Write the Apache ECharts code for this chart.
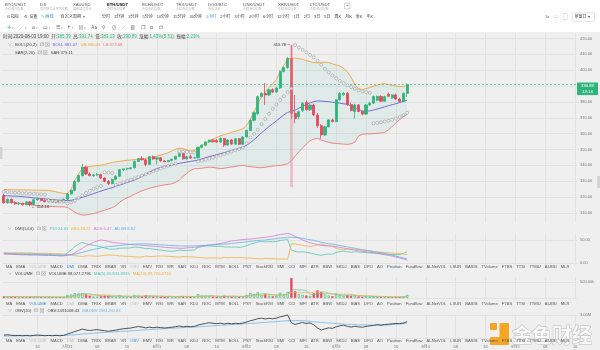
<!DOCTYPE html>
<html>
<head>
<meta charset="utf-8">
<script src="https://cdn.jsdelivr.net/npm/echarts@6/dist/echarts.min.js"></script>
<style>
html,body{margin:0;padding:0;background:#efefef;}
#chart{width:600px;height:350px;}
</style>
</head>
<body>
<div id="chart"></div>
<script>
// ETH/USDT hourly candles, 2020-07-30 07:00 to 2020-08-03 19:00
const openP = [321.0,316.4,318.6,316.5,315.8,316.1,315.2,317.0,315.4,318.4,
319.0,317.9,317.1,318.5,316.9,317.8,316.8,318.7,322.0,324.3,
329.8,333.6,338.9,334.6,333.5,334.0,334.2,332.0,329.9,328.5,
331.2,333.2,337.3,337.8,338.0,338.5,342.5,344.2,343.5,340.6,
345.5,344.0,344.8,342.8,342.3,343.1,343.9,345.7,347.4,344.1,
345.5,344.6,344.8,351.4,352.7,354.8,355.9,355.6,354.7,357.0,
352.8,356.0,353.4,356.8,353.3,357.9,362.0,368.4,372.5,383.3,
385.4,384.4,387.6,386.2,388.8,399.2,401.6,407.4,372.8,370.6,
374.5,379.8,375.0,378.0,371.8,365.0,359.2,364.3,368.6,367.6,
381.3,384.5,385.5,378.3,373.9,378.1,374.0,372.3,378.1,379.2,
381.0,383.5,380.4,384.8,382.4,384.4,381.8,380.3,385.39];
const highP = [322.1,319.3,319.2,317.4,316.9,316.6,317.5,317.6,318.9,319.6,
319.4,318.6,318.9,318.8,318.3,318.2,319.1,322.6,324.8,330.5,
334.2,341.0,339.8,335.6,334.6,335.2,334.9,332.6,330.8,331.8,
333.8,337.8,338.2,338.6,338.9,343.0,344.6,345.8,344.1,345.9,
346.2,345.0,345.2,343.4,343.3,344.2,346.1,347.9,348.0,345.9,
346.8,345.3,351.8,353.1,355.1,356.2,356.4,356.7,357.6,357.3,
356.4,356.6,357.1,357.2,358.4,362.6,369.0,373.9,384.0,386.0,
391.9,388.2,388.5,389.4,399.9,402.2,408.1,415.78,384.4,374.4,
380.0,381.0,378.6,378.9,373.0,366.0,364.9,369.2,369.5,381.8,
386.0,386.2,386.3,379.5,378.8,378.5,374.6,378.7,379.8,384.0,
384.0,384.2,383.9,385.9,384.8,385.2,382.6,385.9,391.74];
const lowP = [315.8,315.9,316.0,315.2,315.0,314.6,314.9,314.16,315.0,317.6,
317.4,316.6,316.8,316.4,316.2,316.3,316.5,318.2,321.5,323.9,
329.2,333.0,334.0,333.2,332.8,333.4,331.4,329.4,327.6,328.0,
330.6,332.6,336.4,336.9,337.4,338.1,342.0,343.2,339.5,340.2,
343.6,340.5,342.3,341.9,342.0,342.6,343.6,345.3,343.5,343.6,
344.1,344.2,344.3,350.9,352.3,354.2,354.4,354.3,354.3,351.6,
352.5,352.9,353.0,352.8,353.0,357.5,361.6,367.8,371.9,382.8,
378.1,383.9,385.7,385.9,388.2,398.6,400.9,369.5,366.5,369.0,
373.8,374.5,374.3,371.0,363.5,356.9,358.6,363.9,367.0,367.2,
380.8,383.8,377.5,374.0,369.6,373.5,371.6,371.9,377.4,378.7,
380.4,380.0,380.0,383.0,381.9,381.2,379.8,379.9,383.13];
const closeP = [316.4,318.6,316.5,315.8,316.1,315.2,317.0,315.4,318.4,319.0,
317.9,317.1,318.5,316.9,317.8,316.8,318.7,322.0,324.3,329.8,
333.6,338.9,334.6,333.5,334.0,334.2,332.0,329.9,328.5,331.2,
333.2,337.3,337.8,338.0,338.5,342.5,344.2,343.5,340.6,345.5,
344.0,344.8,342.8,342.3,343.1,343.9,345.7,347.4,344.1,345.5,
344.6,344.8,351.4,352.7,354.8,355.9,354.9,354.7,357.0,352.8,
356.0,353.4,356.8,353.3,357.9,362.0,368.4,373.2,383.3,385.4,
384.4,387.6,386.2,388.8,399.2,401.6,407.4,372.8,369.6,373.9,
379.2,375.0,378.0,371.8,365.0,359.2,364.3,368.6,367.6,381.3,
385.4,385.5,378.3,374.6,378.1,374.0,372.3,378.1,379.2,383.4,
383.5,380.4,383.3,383.5,384.4,381.8,380.3,385.38,390.89];

// BOLL(20,2) bands and SAR(2,20)
const bollUB = [324.8,324.8,324.7,324.7,324.6,324.6,324.5,324.5,324.4,324.4,
324.3,324.3,324.2,323.8,323.3,322.8,322.3,322.2,324.8,330.5,
334.5,338.2,338.8,339.3,339.6,339.9,340.1,340.6,341.2,341.8,
342.2,342.6,342.9,343.2,343.4,343.7,344.0,344.2,344.4,344.8,
345.3,345.8,346.5,347.2,348.0,349.0,350.2,350.8,350.6,349.8,
349.0,349.4,351.0,352.5,354.0,355.5,356.6,357.6,358.6,359.3,
360.0,360.8,361.5,362.2,363.0,365.0,369.0,373.5,379.0,383.0,
386.5,389.0,391.5,394.0,399.0,403.0,406.8,407.6,407.6,407.2,
406.8,406.0,405.4,404.8,404.6,404.9,405.0,404.8,404.0,403.2,
402.6,401.2,399.0,395.5,391.0,388.2,387.8,388.4,389.0,389.8,
390.6,391.2,391.5,391.0,390.5,390.0,389.6,389.8,390.05];
const bollMid = [320.9,320.8,320.7,320.6,320.5,320.3,320.1,319.8,319.5,319.3,
319.1,318.9,318.6,318.4,318.2,318.0,317.9,317.8,318.0,318.5,
319.2,319.9,320.6,321.4,322.2,323.0,323.8,324.6,325.3,326.0,
326.8,327.6,328.4,329.2,330.0,330.9,331.8,333.2,334.5,335.8,
336.9,338.0,338.7,339.3,339.8,340.3,340.8,341.3,341.7,342.1,
342.5,342.9,343.3,344.0,344.8,345.5,346.1,346.7,347.4,348.0,
348.7,349.4,350.0,350.7,351.5,352.6,354.3,356.2,358.3,360.5,
362.5,364.4,366.3,368.0,370.0,371.8,373.4,374.0,374.8,376.0,
377.2,378.4,379.4,380.2,380.6,380.5,380.3,380.1,379.8,379.5,
379.2,378.8,378.4,377.6,376.4,375.4,374.2,374.0,374.4,374.9,
375.5,376.2,376.9,377.6,378.2,378.9,379.6,380.3,381.07];
const bollLB = [317.1,316.9,316.7,316.4,316.2,315.9,315.6,315.2,314.8,314.6,
314.4,314.3,314.2,314.1,314.0,313.9,313.9,313.6,312.0,310.5,
309.4,308.7,308.8,309.2,309.6,310.3,311.0,311.8,312.6,313.3,
314.6,316.8,318.4,319.6,320.6,321.8,323.0,324.0,324.8,325.6,
326.2,326.8,327.3,327.7,328.0,328.4,329.4,330.8,333.0,335.0,
336.8,337.9,338.0,338.2,338.6,338.9,338.7,338.3,338.0,338.2,
338.6,339.0,339.4,339.8,340.0,339.6,339.2,338.9,338.6,338.6,
338.8,339.2,339.6,339.8,340.0,340.4,341.0,343.0,345.8,348.5,
351.0,353.5,355.5,356.6,357.0,356.0,355.2,354.6,354.0,353.8,
353.6,353.4,353.2,353.6,354.6,358.5,359.6,359.8,359.9,360.0,
360.2,360.4,360.8,362.4,364.5,366.8,368.8,370.8,372.08];
const sarVals = [323.4,323.2,323.0,322.8,322.7,322.5,322.4,322.2,322.1,321.9,
321.8,321.6,317.9,317.7,317.5,317.3,317.2,316.0,316.6,317.8,
319.4,321.0,322.6,324.0,325.2,326.2,327.0,335.6,335.4,335.2,
327.7,328.6,329.4,330.2,331.0,331.8,332.6,333.5,334.4,335.3,
336.2,337.1,338.0,338.9,339.7,340.5,341.2,348.9,348.7,348.5,
348.3,348.1,342.4,342.9,343.5,344.2,344.9,345.6,346.3,347.1,
347.9,348.7,349.5,350.3,351.2,354.0,357.5,359.8,362.4,366.0,
369.2,372.6,375.6,378.3,381.2,383.6,386.1,388.4,415.78,414.3,
412.8,411.2,409.6,408.0,406.0,403.4,400.8,398.6,396.6,394.8,
393.2,391.8,390.5,389.3,388.2,387.3,386.6,386.1,385.7,366.5,
366.8,367.2,367.6,368.1,368.7,369.5,370.5,371.7,373.11];

// DMI(14,6)
const pdi = [21,20.5,20,19,18.5,18,18.5,17.5,18,18.5,
17.5,17,17,16.5,16,15.5,16,22,28,36,
41,45,42,40,38.5,37,35.5,33,30.5,30,
30.5,32,32.5,32.5,33,34.5,34,33,31,31.5,
30,29,28,27,26,25.5,26.5,28,27,27.5,
27.5,28,34,35.5,36.5,37,36.5,36,36.5,35,
35,34.5,35,34,35,38,41,43,46,46.5,
46,46.5,46,46.5,49,50,51,28,25,24,
24.5,23,22,20,18,17,18.5,19.5,19,23,
25,25.5,24.5,23.5,24.5,24,23,22.5,22,21.5,
21,20,19.5,19,18.5,18,18.5,21,24.65];
const mdi = [22.5,22,22,22.5,22,22.5,21.5,22,21,20.5,
21,21,20.5,20.5,20,20,19.5,18.5,17.5,16,
15,14,15.5,15.5,15,14.5,15.5,16.5,17.5,17,
16.5,15.5,15,14.5,14.5,13.5,13,13,15,14,
14,15,15,15,14.5,14,13.5,13,14,13.5,
13.5,13,12,11.5,11,11,11,11,10.5,12,
11.5,12,11.5,12,11.5,11,10.5,10,9.5,9,
10,9.5,9.5,9,8.5,8.5,8,42,41.5,40,
38,37,36,37,39,41,39,37,36,32,
30,29,30,30.5,30,29,28.5,27,26,25,
24,23.5,22.5,22,21.5,21,20.5,19.5,18.22];
const adx = [19,18.8,18.6,18.4,18.2,18,17.8,17.6,17.4,17.2,
17,16.8,16.6,16.4,16.2,16,15.8,16.5,18,22,
27,32,37,41,45,48,50,49,47,45,
44,43,42,41,40,39.5,39,38.5,37.5,37,
36.5,36,35,34,33.5,33,32.5,32,32,33,
33.5,34,35,36.5,38,39,40,41,42.5,44,
46,48,49,50,51,51.5,52,53,54,55,
56,57,58.5,60,61.5,63,64.5,62,58,54,
50,47,44,42,40,38.5,37.5,37,36.5,35.5,
34,32.5,31,29.5,28,26.5,25.5,24.5,23.5,22.5,
21,19.5,18,16.5,15,13,11,8.5,6.47];
const adxr = [21,20.8,20.6,20.4,20.2,20,19.8,19.6,19.4,19.2,
19,18.8,18.6,18.3,18,17.8,17.5,17.5,18,19,
21,23,25.5,27.5,29.5,31,33,34.5,35.5,36.5,
37,38,39,40,40.5,41,41.5,41.5,41.5,41,
40.5,40,39.5,39,38.5,38,37.5,37,37,37,
37,37,37.5,38,38.5,39,39.5,40,40.5,41,
41.5,42.5,43.5,44.5,45,46,47,48,49,49.5,
50,51,52,53,54,55,56,56,55.5,55,
53.5,52,50.5,49,47,45,43.5,42,41,39.5,
38,36.5,35,33.5,32,30.5,29,28,26.5,25,
23.5,22,20.5,19,17,15,13,11,8.92];

// Volume (thousand ETH) with MA(5) / MA(10)
const volK = [52,38,41,35,28,33,36,45,40,34,
30,27,31,29,25,28,33,95,110,150,
140,150,120,70,48,42,60,72,68,55,
50,78,45,38,40,85,70,52,80,65,
48,55,42,35,30,33,45,58,62,40,
38,30,120,75,68,55,45,40,48,70,
52,46,44,42,50,95,150,120,175,85,
130,70,55,60,165,110,190,625,215,120,
105,80,65,150,240,185,110,80,55,140,
90,60,85,70,75,50,42,60,40,45,
35,33,30,25,28,35,32,36,98.0772796];
const volMa5 = [42,41,42,41,39,35,35,35,36,38,
37,35,32,30,28,28,29,42,58,83,
106,129,134,126,106,86,68,58,58,59,
61,65,59,53,50,57,56,57,65,70,
63,60,58,49,42,39,37,40,46,48,
49,46,58,61,66,70,73,57,51,52,
51,51,52,51,47,55,76,91,118,125,
132,116,103,80,96,92,116,230,261,252,
251,229,117,104,128,144,150,153,134,114,
95,85,86,89,76,68,64,59,53,47,
44,43,37,34,30,30,30,31,45.8339935];
const volMa10 = [41,41,41,41,40,39,38,38,39,38,
36,35,34,33,33,32,32,37,44,56,
67,79,88,92,94,96,98,96,92,82,
74,66,58,56,54,59,60,58,59,60,
60,58,58,57,56,51,48,49,48,45,
44,42,49,54,57,60,60,58,56,59,
60,62,54,51,50,53,64,72,84,86,
94,96,97,99,110,112,116,166,170,174,
172,172,174,182,190,198,190,135,119,121,
120,118,120,112,95,82,74,72,71,62,
56,54,48,44,38,37,36,34,39.728871];

// OBV(20) in millions
const obvM = [1.47,1.50,1.46,1.43,1.45,1.42,1.45,1.41,1.45,1.48,
1.45,1.42,1.45,1.42,1.45,1.42,1.45,1.55,1.64,1.74,
1.83,1.93,1.86,1.82,1.86,1.89,1.84,1.80,1.76,1.81,
1.85,1.91,1.95,1.98,2.01,2.07,2.12,2.08,2.02,2.07,
2.03,2.07,2.04,2.01,2.04,2.07,2.11,2.16,2.10,2.14,
2.11,2.13,2.24,2.30,2.36,2.41,2.37,2.34,2.38,2.32,
2.37,2.33,2.37,2.34,2.39,2.47,2.56,2.63,2.72,2.76,
2.70,2.75,2.71,2.76,2.86,2.92,3.00,2.41,2.28,2.36,
2.43,2.35,2.40,2.25,2.02,1.86,1.95,2.02,1.98,2.10,
2.18,2.22,2.14,2.08,2.14,2.10,2.07,2.13,2.17,2.21,
2.26,2.23,2.27,2.30,2.33,2.36,2.34,2.39,2.49100843];
const maobvM = [1.40,1.40,1.41,1.41,1.41,1.42,1.42,1.42,1.43,1.43,
1.43,1.44,1.44,1.44,1.45,1.45,1.45,1.46,1.48,1.50,
1.52,1.55,1.57,1.59,1.61,1.64,1.66,1.68,1.70,1.71,
1.73,1.74,1.76,1.77,1.79,1.81,1.83,1.85,1.87,1.89,
1.91,1.93,1.94,1.96,1.98,1.99,2.01,2.02,2.04,2.05,
2.07,2.08,2.10,2.12,2.14,2.16,2.18,2.20,2.21,2.23,
2.25,2.27,2.28,2.30,2.32,2.34,2.36,2.38,2.40,2.42,
2.44,2.46,2.48,2.50,2.52,2.55,2.57,2.57,2.57,2.57,
2.56,2.54,2.52,2.49,2.46,2.43,2.41,2.39,2.37,2.35,
2.33,2.31,2.29,2.28,2.27,2.26,2.25,2.24,2.24,2.23,
2.23,2.23,2.24,2.25,2.27,2.29,2.31,2.34,2.36125083];

// UI labels
const symbols = ["BTC/USDT","DJI","XAUUSD","ETH/USDT","BCH/USDT","TRX/USDT","DOG/BTC","LINK/USDT","XRP/USDT","LTC/USDT"];
const symbolNotes = ["永续合约指数","道琼斯工业平均指数","黄金现货美元","永续合约指数","永续合约指数","永续合约指数","币币交易","永续合约指数","永续合约指数","永续合约指数"];
const periods = ["分时","1分钟","3分钟","5分钟","10分钟","15分钟","30分钟","1小时","2小时","3小时","4小时","6小时","12小时","1日","2日","3日","5日","周K","月K","季K","年K"];
const indicatorTabs = ["MA","EMA","VOLUME","MACD","DMI","DMA","TRIX","BRAR","VR","OBV","EMV","RSI","WR","SAR","KDJ","ROC","MTM","BOLL","PSY","StochRSI","SMI","CCI","MFI","ATR","BBW","SKDJ","BIAS","DPO","AO","Position","Fundflow","AI-NetVOL","LSUR","BASIS","TVolume","FTBS","TTSI","TTMU","AI-BSI","MLR"];
const drawTools = ["✛","╱","⌀","▭","☰","Ⱶ","▤"];
const drawTools2 = ["Aa","⚲","⊘","⟋","▦","❐","⧉","⊡"];
const countdown = '13:14';

const FAM = '"Liberation Sans","Noto Sans CJK SC",sans-serif';
const UP = '#2fb47c', DOWN = '#e5475b';
const C_UB = '#f0a43a', C_MID = '#6c5ad8', C_LB = '#ea7b78';
const C_PDI = '#4fc9b0', C_MDI = '#f3b13f', C_ADX = '#d77bd6', C_ADXR = '#63b0e6';
const C_OBV = '#2b2b2b', C_MAOBV = '#74b6e6';
const GRIDLINE = '#e2e2e2';
const TXT = '#444', MUTED = '#c2c2c2', BLUE = '#3b8ce0';

// hourly category slots (last candle plus empty future slots)
const SLOTS = 154, START_HOUR = 7;
const cats = [];
for (let i = 0; i < SLOTS; i++) {
  const d = new Date(Date.UTC(2020, 6, 30, START_HOUR + i));
  cats.push(d.toISOString().slice(5, 13));
}
const hourOf = i => (START_HOUR + i) % 24;
const showTick = i => i >= 5 && hourOf(i) % 8 === 0;
function tickLabel(v) {
  const m = +v.slice(0, 2), d = +v.slice(3, 5), h = v.slice(6, 8);
  return h === '00' ? m + '月' + d : h;
}

const last = closeP.length - 1;
const fmt2 = v => v.toFixed(2);
const fmtThousands = v => v.toLocaleString('en-US', {minimumFractionDigits: 4, maximumFractionDigits: 4});

// ---------- graphic helpers ----------
const mctx = document.createElement('canvas').getContext('2d');
const fnt = (s, w) => (w || 'normal') + ' ' + s + 'px ' + FAM;
function tw(t, font) { mctx.font = font; return mctx.measureText(t).width; }
const G = [];
function txt(x, y, t, size, color, opt) {
  opt = opt || {};
  const font = fnt(size, opt.weight);
  G.push({type: 'text', x: x, y: y, z: 100, silent: true,
    style: {text: t, font: font, fill: color, textAlign: opt.align || 'left', align: opt.align || 'left',
      textVerticalAlign: 'middle', verticalAlign: 'middle'}});
  return tw(t, font);
}
function seq(x, y, parts, size) {
  for (const p of parts) {
    const w = txt(x, y, p[0], size, p[1], {weight: p[2]});
    x += w + (p[3] == null ? 0 : p[3]);
  }
  return x;
}
function rect(x, y, w, h, fill, stroke, z, r) {
  G.push({type: 'rect', z: z == null ? 1 : z, silent: true, shape: {x: x, y: y, width: w, height: h, r: r || 0},
    style: {fill: fill, stroke: stroke || null, lineWidth: 0.6}});
}

// header background
rect(0, 0, 600, 33, '#ffffff', null, 0);
rect(0, 32.5, 600, 0.6, '#e0e0e0', null, 0);

// symbol tabs
const symbolX = [5, 40, 73, 107, 142, 176, 208, 243, 278, 310];
symbols.forEach((s, k) => {
  const sel = s === 'ETH/USDT';
  txt(symbolX[k], 5, s, 4.2, sel ? '#111' : '#555', {weight: sel ? 'bold' : 'normal'});
  txt(symbolX[k], 9.3, symbolNotes[k], 3.1, '#b5b5b5');
});
rect(344.5, 3.2, 5.5, 5.5, '#fff', '#bbb', 2);
txt(347.25, 6, '+', 4.5, '#888', {align: 'center'});

// toolbar row
seq(7, 17, [['⊡', '#555', null, 1], ['指标', TXT, null, 5], ['⚙', '#555', null, 1], ['设置', TXT, null, 4],
  ['✎', BLUE, null, 1], ['画线', BLUE, null, 7], ['自定义周期', TXT, null, 1.5], ['▾', '#777']], 4.1);
let px = 102;
periods.forEach(p => { px += txt(px, 17, p, 4.0, p === '1小时' ? BLUE : TXT) + 4; });
txt(545, 17, '1x', 4.2, '#666');
txt(554, 17, '⛶', 4.6, '#777');
txt(563, 17, '▢', 4.6, '#777');
rect(572, 12.8, 22.5, 8.5, '#fff', '#cfcfcf', 2, 1);
txt(574.5, 17, '单窗口 ▾', 4.0, TXT);

// drawing tools row
let dx = 7;
drawTools.forEach((t, k) => { dx += txt(dx, 28, t, 4.8, k === 0 ? BLUE : '#666') + 1; dx += txt(dx, 28, '▾', 3.2, '#999') + 5; });
drawTools2.forEach(t => { dx += txt(dx, 28, t, 4.6, '#666') + 5.5; });

// quote line
const chg = closeP[last] - closeP[last - 1];
const pct = chg / closeP[last - 1] * 100;
const amp = (highP[last] - lowP[last]) / closeP[last - 1] * 100;
seq(3, 37, [['时间:', TXT], ['2020-08-03 19:00', TXT, null, 2.5],
  ['开:', TXT], [fmt2(openP[last]), UP, null, 2.5],
  ['高:', TXT], [fmt2(highP[last]), UP, null, 2.5],
  ['低:', TXT], [fmt2(lowP[last]), UP, null, 2.5],
  ['收:', TXT], [fmt2(closeP[last]), UP, null, 2.5],
  ['涨幅:', TXT], [pct.toFixed(2) + '%(' + chg.toFixed(2) + ')', UP, null, 2.5],
  ['振幅:', TXT], [amp.toFixed(2) + '%', UP]], 4.5);

// indicator headers
function header(y, name, parts, caret) {
  if (caret) txt(8, y, '∨', 4, '#888');
  let x = 15 + txt(15, y, name, 4.2, TXT) + 3;
  x += txt(x, y, '⊡', 4.6, '#888') + 1.5;
  x += txt(x, y, '⊠', 4.6, '#888') + 3;
  seq(x, y, parts.map(p => [p[0], p[1], null, 3]), 4.2);
}
header(45, 'BOLL(20,2)', [['BOLL:' + fmt2(bollMid[last]), C_MID], ['UB:' + fmt2(bollUB[last]), C_UB], ['LB:' + fmt2(bollLB[last]), C_LB]], true);
header(53, 'SAR(2,20)', [['SAR:' + fmt2(sarVals[last]), TXT]], false);
header(229, 'DMI(14,6)', [['PDI:' + fmt2(pdi[last]), C_PDI], ['MDI:' + fmt2(mdi[last]), C_MDI], ['ADX:' + fmt2(adx[last]), C_ADX], ['ADXR:' + fmt2(adxr[last]), C_ADXR]], true);
header(273.5, 'VOLUME', [['VOLUME:' + fmtThousands(volK[last] * 1000), TXT], ['MA(5):' + fmtThousands(volMa5[last] * 1000), C_PDI], ['MA(10):' + fmtThousands(volMa10[last] * 1000), C_MDI]], true);
header(311, 'OBV(20)', [['OBV:' + (obvM[last] * 1e6).toFixed(2), TXT], ['MAOBV:' + (maobvM[last] * 1e6).toFixed(2), C_MAOBV]], true);

// indicator tab rows
function tabRow(y, active, muted) {
  let x = 6;
  indicatorTabs.forEach(t => {
    const col = t === active ? BLUE : (muted.indexOf(t) >= 0 ? MUTED : '#555');
    x += txt(x, y, t, 4.1, col) + 4.1;
  });
}
tabRow(266.7, 'DMI', ['VOLUME', 'OBV']);
tabRow(304, 'VOLUME', ['DMI', 'OBV']);
tabRow(341, 'OBV', ['VOLUME', 'DMI']);

// side handles
rect(0, 147, 2.5, 12, '#d2d2d2', null, 2);
rect(597.2, 176, 2.8, 12, '#d2d2d2', null, 2);

// watermark
rect(490, 323, 7, 7, '#f5a623', null, 50, 1);
rect(499.5, 323, 9.5, 22, '#f5a623', null, 50, 1);
rect(490, 337, 19, 8, '#f5a623', null, 50, 1);
G.push({type: 'text', x: 512, y: 335, z: 50, silent: true,
  style: {text: '金色财经', font: 'bold 20px "Noto Sans CJK SC",sans-serif', fill: 'rgba(252,252,252,0.9)',
    stroke: 'rgba(180,180,180,0.9)', lineWidth: 1, textVerticalAlign: 'middle', verticalAlign: 'middle'}});

// ---------- chart ----------
const L = 2, R = 23;
const grids = [
  {left: L, right: R, top: 38.4, height: 174.6},   // price
  {left: L, right: R, top: 240, height: 23},       // DMI
  {left: L, right: R, top: 282, height: 16},       // volume
  {left: L, right: R, top: 315, height: 23},       // OBV
  {left: L, right: R, top: 33, height: 189},       // panel frames for time grid lines
  {left: L, right: R, top: 233, height: 32},
  {left: L, right: R, top: 277.5, height: 22},
  {left: L, right: R, top: 314.5, height: 23.5}
];
const xAxes = grids.map((g, k) => ({
  type: 'category', gridIndex: k, data: cats, boundaryGap: true,
  axisLine: {show: false}, axisTick: {show: false},
  axisLabel: {show: k === 7, interval: i => showTick(i), formatter: tickLabel, fontSize: 4, color: '#777', margin: 7, fontFamily: FAM},
  splitLine: {show: k >= 4, interval: i => showTick(i), alignWithLabel: true, lineStyle: {color: GRIDLINE, width: 1}}
}));
const yLab = (f, extra) => Object.assign({fontSize: 4, color: '#777', margin: 3, fontFamily: FAM, formatter: f}, extra || {});
const yBase = {type: 'value', position: 'right', axisLine: {show: false}, axisTick: {show: false}, splitLine: {lineStyle: {color: GRIDLINE}}};
const yAxes = [
  Object.assign({}, yBase, {gridIndex: 0, min: 310, max: 420, interval: 10, axisLabel: yLab(v => v.toFixed(2))}),
  Object.assign({}, yBase, {gridIndex: 1, min: 0, max: 50, interval: 50, axisLabel: yLab(v => v.toFixed(2))}),
  Object.assign({}, yBase, {gridIndex: 2, min: 0, max: 500, interval: 500, axisLabel: yLab(v => v.toFixed(2) + 'k', {showMinLabel: false})}),
  Object.assign({}, yBase, {gridIndex: 3, min: 1.25, max: 3, interval: 1.75, axisLabel: yLab(v => v.toFixed(2) + 'M', {showMinLabel: false})}),
  {type: 'value', gridIndex: 4, show: false, min: 0, max: 1},
  {type: 'value', gridIndex: 5, show: false, min: 0, max: 1},
  {type: 'value', gridIndex: 6, show: false, min: 0, max: 1},
  {type: 'value', gridIndex: 7, show: false, min: 0, max: 1}
];

const ln = (data, color, xi, w, z) => ({type: 'line', data: data, xAxisIndex: xi, yAxisIndex: xi, symbol: 'none', clip: false, silent: true,
  lineStyle: {color: color, width: w || 0.8}, z: z || 3});

const candleData = openP.map((o, i) => [o, closeP[i], lowP[i], highP[i]]);
const bandSpan = bollUB.map((u, i) => +(u - bollLB[i]).toFixed(3));
const volData = volK.map((v, i) => ({value: v, itemStyle: closeP[i] >= openP[i]
  ? {color: 'rgba(0,0,0,0)', borderColor: UP, borderWidth: 0.6}
  : {color: DOWN, borderColor: DOWN, borderWidth: 0.6}}));
const HI = highP.indexOf(Math.max.apply(null, highP));
const LO = lowP.indexOf(Math.min.apply(null, lowP));
const boxStyle = bg => ({backgroundColor: bg, color: '#fff', fontSize: 4.2, fontFamily: FAM, padding: [1.3, 1, 1.1, 1], width: 19, align: 'center', lineHeight: 5});

const series = [
  // band fill between LB and UB
  {type: 'line', data: bollLB, stack: 'band', xAxisIndex: 0, yAxisIndex: 0, symbol: 'none', clip: false, silent: true,
    lineStyle: {opacity: 0}, z: 1,
    markLine: {symbol: ['none', 'none'], silent: true, label: {show: false},
      data: [[{coord: [cats[HI], highP[HI]], lineStyle: {color: 'rgba(236,128,150,0.42)', width: 3, type: 'solid'}}, {coord: [cats[HI], 326.4]}]]}},
  {type: 'line', data: bandSpan, stack: 'band', xAxisIndex: 0, yAxisIndex: 0, symbol: 'none', clip: false, silent: true,
    lineStyle: {opacity: 0}, areaStyle: {color: 'rgba(95,195,180,0.14)'}, z: 1},
  ln(bollUB, C_UB, 0, 0.9),
  ln(bollMid, C_MID, 0, 0.9),
  ln(bollLB, C_LB, 0, 0.9),
  {type: 'candlestick', data: candleData, xAxisIndex: 0, yAxisIndex: 0, barWidth: 2.6, silent: true, z: 4,
    itemStyle: {color: UP, color0: DOWN, borderColor: UP, borderColor0: DOWN, borderWidth: 0.8},
    markLine: {symbol: ['none', 'none'], silent: true,
      data: [
        {yAxis: closeP[last], lineStyle: {color: UP, width: 0.7, type: [2, 2]},
          label: {show: true, position: 'end', distance: 0, offset: [0, 4.2],
            formatter: '{p|' + fmt2(closeP[last]) + '}\n{gap|}\n{t|' + countdown + '}',
            rich: {p: boxStyle(UP), t: boxStyle(UP), gap: {height: 1, lineHeight: 1, fontSize: 1}}}}
      ]},
    markPoint: {symbol: 'circle', symbolSize: 0.1, silent: true, itemStyle: {color: 'rgba(0,0,0,0)'},
      data: [
        {coord: [cats[HI], highP[HI]], label: {show: true, position: 'left', distance: 1, formatter: fmt2(highP[HI]) + ' ─', fontSize: 4.2, color: '#333', fontFamily: FAM}},
        {coord: [cats[LO], lowP[LO]], label: {show: true, position: 'right', distance: 1, formatter: '← ' + fmt2(lowP[LO]), fontSize: 4.2, color: '#333', fontFamily: FAM}}
      ]}},
  {type: 'scatter', data: sarVals, xAxisIndex: 0, yAxisIndex: 0, symbol: 'circle', symbolSize: 3, silent: true, z: 5,
    itemStyle: {color: '#f4f4f4', borderColor: '#8a8a8a', borderWidth: 0.6}},
  // DMI
  ln(pdi, C_PDI, 1), ln(mdi, C_MDI, 1), ln(adx, C_ADX, 1), ln(adxr, C_ADXR, 1),
  // volume
  {type: 'bar', data: volData, xAxisIndex: 2, yAxisIndex: 2, barWidth: 2.3, clip: false, silent: true, z: 3,
    markLine: {symbol: ['none', 'none'], silent: true,
      data: [{yAxis: volK[last], lineStyle: {opacity: 0},
        label: {show: true, position: 'end', distance: 0, formatter: '{v|' + volK[last].toFixed(1) + 'k}', rich: {v: boxStyle('#f5a623')}}}]}},
  ln(volMa5, C_PDI, 2, 0.7), ln(volMa10, C_MDI, 2, 0.7),
  // OBV
  ln(maobvM, C_MAOBV, 3, 0.8), ln(obvM, C_OBV, 3, 0.8)
];

const chart = echarts.init(document.getElementById('chart'), null, {renderer: 'canvas'});
chart.setOption({
  animation: false,
  backgroundColor: '#efefef',
  textStyle: {fontFamily: FAM},
  grid: grids,
  xAxis: xAxes,
  yAxis: yAxes,
  series: series,
  graphic: {elements: G}
});
</script>
</body>
</html>
